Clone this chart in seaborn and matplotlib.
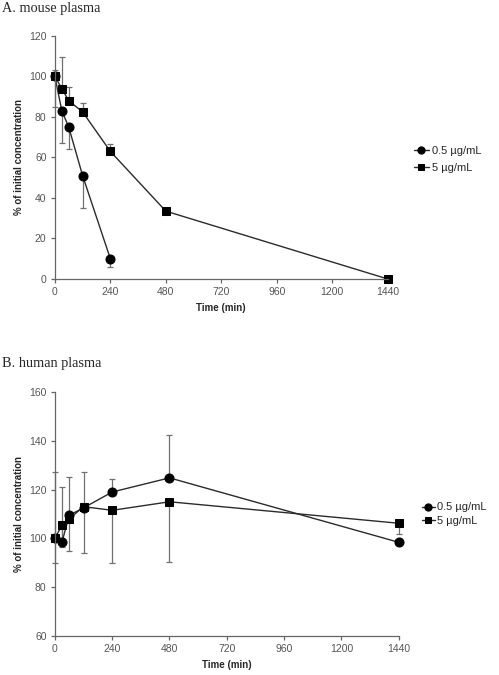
import pandas as pd
import numpy as np
import seaborn as sns
import matplotlib.pyplot as plt

# time points (min)
t_full = [0, 30, 60, 120, 240, 480, 1440]
t_short = [0, 30, 60, 120, 240]

# A. mouse plasma
mouse_low = [100, 83, 75, 51, 10]
mouse_low_err = [15, 16, 11, 16, 4.2]        # lower bars only
mouse_high = [100, 94, 88, 82.5, 63, 33.5, 0]
mouse_high_err = [3, 15.5, 7, 4.5, 3.7, 0, 0]   # upper bars only

# B. human plasma
human_low = [100, 98.5, 109.5, 112.5, 119, 124.8, 98.4]
human_low_err = [27, 22.5, 15.5, 14.5, 5.5, 17.5, 0]   # upper bars only
human_high = [100, 105.5, 108, 113, 111.5, 115, 106.2]
human_high_err = [10, 9, 13, 19, 21.5, 24.5, 4.3]     # lower bars only

labels = ['0.5 \u00b5g/mL', '5 \u00b5g/mL']

sns.set_style("ticks")
plt.rcParams['font.family'] = ['Liberation Sans', 'DejaVu Sans']

line_col = '#2b2b2b'
err_col = '#707070'
axis_col = '#666666'

fig = plt.figure(figsize=(4.99, 6.75), dpi=100)
ax1 = fig.add_axes([0.110, 0.5867, 0.667, 0.36])
ax2 = fig.add_axes([0.110, 0.0578, 0.689, 0.3615])


def draw(ax, t1, y1, e1, t2, y2, e2, up1):
    z = np.zeros(len(e1))
    z2 = np.zeros(len(e2))
    kw = dict(fmt='none', ecolor=err_col, elinewidth=0.9, capsize=2, capthick=0.9, clip_on=False)
    if up1:
        ax.errorbar(t1, y1, yerr=[z, e1], **kw)
        ax.errorbar(t2, y2, yerr=[e2, z2], **kw)
    else:
        ax.errorbar(t1, y1, yerr=[e1, z], **kw)
        ax.errorbar(t2, y2, yerr=[z2, e2], **kw)
    sns.lineplot(x=t1, y=y1, ax=ax, color=line_col, linewidth=1, marker='o', markersize=6.5,
                 markerfacecolor='black', markeredgecolor='black', label=labels[0], clip_on=False)
    sns.lineplot(x=t2, y=y2, ax=ax, color=line_col, linewidth=1, marker='s', markersize=6,
                 markerfacecolor='black', markeredgecolor='black', label=labels[1], clip_on=False)


draw(ax1, t_short, mouse_low, mouse_low_err, t_full, mouse_high, mouse_high_err, up1=False)
draw(ax2, t_full, human_low, human_low_err, t_full, human_high, human_high_err, up1=True)

ax1.set_ylim(0, 120)
ax1.set_yticks(range(0, 121, 20))
ax2.set_ylim(60, 160)
ax2.set_yticks(range(60, 161, 20))

for ax in (ax1, ax2):
    ax.set_xlim(0, 1440)
    ax.set_xticks(range(0, 1441, 240))
    sns.despine(ax=ax)
    for s in ('left', 'bottom'):
        ax.spines[s].set_color(axis_col)
        ax.spines[s].set_linewidth(0.9)
    ax.tick_params(colors=axis_col, labelcolor='#555555', labelsize=7.5, length=3, width=0.9, pad=3)
    ax.set_xlabel('Time (min)', fontweight='bold', fontsize=7)
    ax.set_ylabel('% of initial concentration', fontweight='bold', fontsize=7)
    ax.get_legend().remove()

ax1.xaxis.set_label_coords(0.5, -0.1)
ax2.xaxis.set_label_coords(0.5, -0.1)
ax1.yaxis.set_label_coords(-0.093, 0.5)
ax2.yaxis.set_label_coords(-0.090, 0.5)

h, l = ax1.get_legend_handles_labels()
fig.legend(h, l, loc='center left', bbox_to_anchor=(0.820, 0.764), frameon=False,
           fontsize=8, handlelength=1.4, handletextpad=0.25, labelspacing=0.6,
           markerscale=0.8, borderaxespad=0)
h, l = ax2.get_legend_handles_labels()
fig.legend(h, l, loc='center left', bbox_to_anchor=(0.836, 0.238), frameon=False,
           fontsize=8, handlelength=1.2, handletextpad=0.2, labelspacing=0.35,
           markerscale=0.8, borderaxespad=0)

fig.text(0.004, 0.988, 'A. mouse plasma', family='Liberation Serif', fontsize=10.3, va='center', ha='left')
fig.text(0.004, 0.462, 'B. human plasma', family='Liberation Serif', fontsize=10.3, va='center', ha='left')

fig.savefig('out.png', dpi=100)
